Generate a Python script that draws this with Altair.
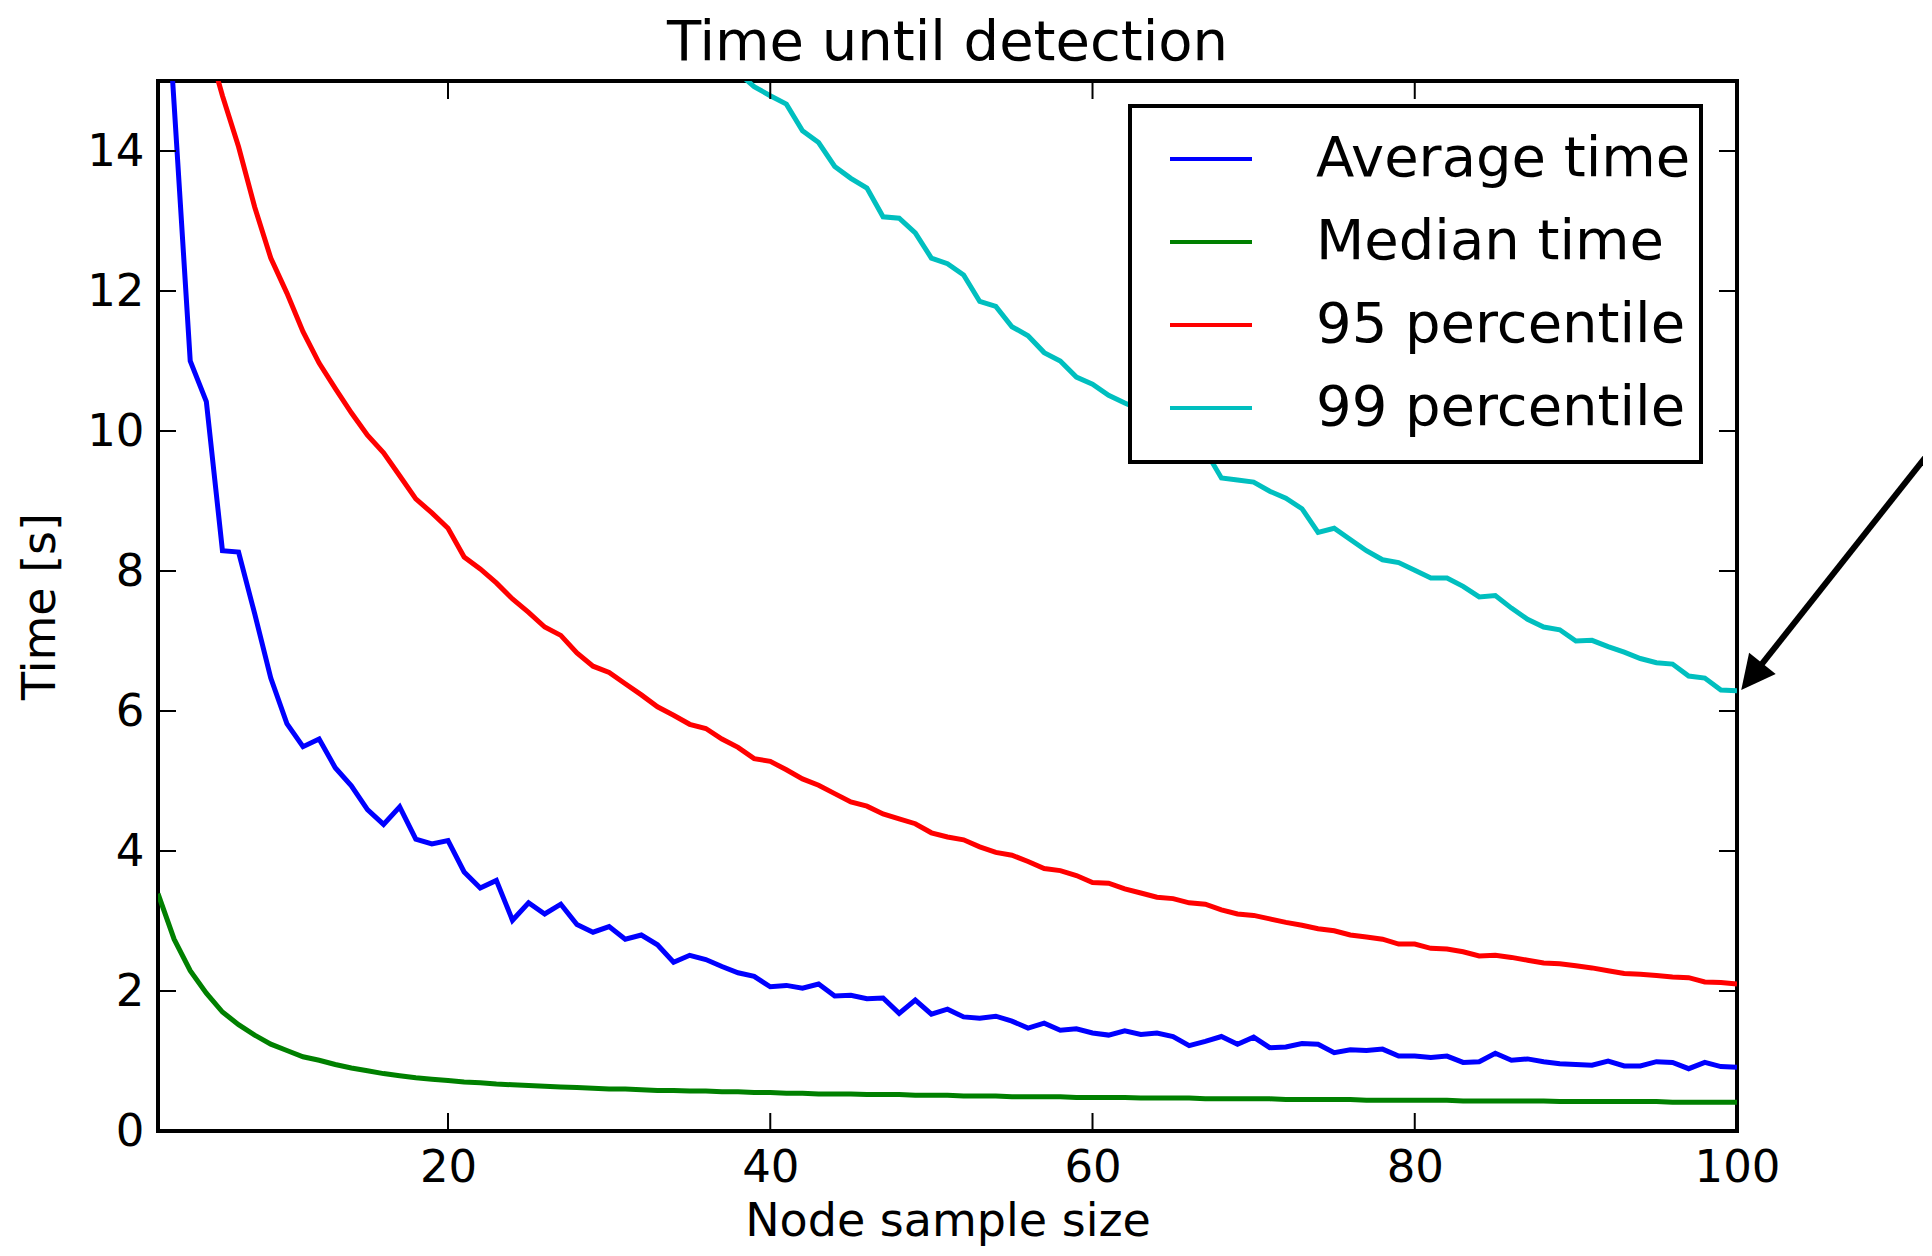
import altair as alt
import pandas as pd

# ---------------- data ----------------
series_names = ["Average time", "Median time", "95 percentile", "99 percentile"]
series_colors = ["#0000ff", "#008000", "#ff0000", "#00bfbf"]

avg_start = 2
avg_time = [18.3, 14.67, 11.0, 10.42, 8.29, 8.27, 7.39, 6.47, 5.82, 5.49,
            5.6, 5.19, 4.93, 4.59, 4.38, 4.63, 4.17, 4.1, 4.15, 3.7,
            3.47, 3.58, 3.01, 3.26, 3.1, 3.24, 2.95, 2.84, 2.92, 2.74,
            2.8, 2.66, 2.41, 2.51, 2.45, 2.35, 2.26, 2.21, 2.06, 2.08,
            2.04, 2.1, 1.93, 1.94, 1.89, 1.9, 1.68, 1.87, 1.67, 1.74,
            1.63, 1.61, 1.64, 1.57, 1.47, 1.54, 1.44, 1.46, 1.4, 1.37,
            1.43, 1.38, 1.4, 1.35, 1.22, 1.28, 1.35, 1.24, 1.34, 1.19,
            1.2, 1.25, 1.24, 1.12, 1.16, 1.15, 1.17, 1.07, 1.07, 1.05,
            1.07, 0.98, 0.99, 1.11, 1.01, 1.03, 0.99, 0.96, 0.95, 0.94,
            1.0, 0.93, 0.93, 0.99, 0.98, 0.89, 0.98, 0.92, 0.91]

median_start = 2
median_time = [3.39, 2.74, 2.29, 1.97, 1.70, 1.52, 1.37, 1.24, 1.15, 1.06,
               1.01, 0.95, 0.90, 0.86, 0.82, 0.79, 0.76, 0.74, 0.72, 0.70,
               0.69, 0.67, 0.66, 0.65, 0.64, 0.63, 0.62, 0.61, 0.60, 0.60,
               0.59, 0.58, 0.58, 0.57, 0.57, 0.56, 0.56, 0.55, 0.55, 0.54,
               0.54, 0.53, 0.53, 0.53, 0.52, 0.52, 0.52, 0.51, 0.51, 0.51,
               0.50, 0.50, 0.50, 0.49, 0.49, 0.49, 0.49, 0.48, 0.48, 0.48,
               0.48, 0.47, 0.47, 0.47, 0.47, 0.46, 0.46, 0.46, 0.46, 0.46,
               0.45, 0.45, 0.45, 0.45, 0.45, 0.44, 0.44, 0.44, 0.44, 0.44,
               0.44, 0.43, 0.43, 0.43, 0.43, 0.43, 0.43, 0.42, 0.42, 0.42,
               0.42, 0.42, 0.42, 0.42, 0.41, 0.41, 0.41, 0.41, 0.41]

p95_start = 5
p95_time = [15.6, 14.79, 14.06, 13.2, 12.47, 11.97, 11.42, 10.97, 10.61, 10.26,
            9.94, 9.69, 9.36, 9.03, 8.83, 8.61, 8.2, 8.03, 7.83, 7.6,
            7.41, 7.2, 7.08, 6.83, 6.64, 6.55, 6.39, 6.23, 6.06, 5.94,
            5.81, 5.75, 5.6, 5.48, 5.32, 5.28, 5.16, 5.03, 4.94, 4.82,
            4.7, 4.64, 4.53, 4.46, 4.39, 4.26, 4.2, 4.16, 4.06, 3.98,
            3.94, 3.85, 3.75, 3.72, 3.65, 3.55, 3.54, 3.46, 3.4, 3.34,
            3.32, 3.26, 3.24, 3.16, 3.1, 3.08, 3.03, 2.98, 2.94, 2.89,
            2.86, 2.8, 2.77, 2.74, 2.67, 2.67, 2.61, 2.6, 2.56, 2.5,
            2.51, 2.48, 2.44, 2.4, 2.39, 2.36, 2.33, 2.29, 2.25, 2.24,
            2.22, 2.2, 2.19, 2.13, 2.12, 2.1]

p99_start = 38
p99_time = [15.12, 14.92, 14.79, 14.67, 14.29, 14.12, 13.78, 13.61, 13.47, 13.06,
            13.04, 12.83, 12.47, 12.39, 12.23, 11.85, 11.78, 11.49, 11.36, 11.12,
            11.0, 10.77, 10.67, 10.51, 10.4, 10.3, 10.2, 10.05, 9.9, 9.72,
            9.33, 9.3, 9.27, 9.14, 9.04, 8.89, 8.55, 8.61, 8.45, 8.29,
            8.16, 8.12, 8.01, 7.9, 7.9, 7.78, 7.63, 7.65, 7.47, 7.31,
            7.2, 7.16, 7.0, 7.01, 6.92, 6.84, 6.75, 6.69, 6.67, 6.5,
            6.47, 6.3, 6.29]

x_tick_values = [20, 40, 60, 80, 100]
y_tick_values = [0, 2, 4, 6, 8, 10, 12, 14]
x_domain = [2, 100]
y_domain = [0, 15]

# annotation arrow (data units): tail outside the plot, head at the last 99-percentile point
arrow_tail = [113.5, 10.15]
arrow_head_center = [100.92, 6.49]

# ---------------- build tables ----------------
rows = []
for name, start, vals in [(series_names[0], avg_start, avg_time),
                          (series_names[1], median_start, median_time),
                          (series_names[2], p95_start, p95_time),
                          (series_names[3], p99_start, p99_time)]:
    for i, v in enumerate(vals):
        rows.append({"size": start + i, "time": v, "series": name})
df = pd.DataFrame(rows)

W, H = 1579, 1050
TICK = 18
FONT = "DejaVu Sans"

xscale = alt.Scale(domain=x_domain, nice=False, zero=False)
yscale = alt.Scale(domain=y_domain, nice=False, zero=False)
xaxis = alt.Axis(values=x_tick_values, title="Node sample size", ticks=False,
                 domain=False, grid=False, labelFontSize=45, labelPadding=14,
                 titleFontSize=46, titlePadding=9, labelFlush=False, format="d")
yaxis = alt.Axis(values=y_tick_values, title="Time [s]", ticks=False,
                 domain=False, grid=False, labelFontSize=45, labelPadding=14,
                 titleFontSize=46, titlePadding=22, format="d")


def X(field):
    return alt.X(field, scale=xscale, axis=xaxis)


def Y(field):
    return alt.Y(field, scale=yscale, axis=yaxis)


lines = alt.Chart(df).mark_line(strokeWidth=5, clip=True).encode(
    x=X("size:Q"),
    y=Y("time:Q"),
    color=alt.Color("series:N",
                    scale=alt.Scale(domain=series_names, range=series_colors),
                    sort=series_names,
                    legend=alt.Legend(title=" ", titleOrient="bottom", titleFontSize=4,
                                      titlePadding=12,
                                      orient="none", legendX=972, legendY=25,
                                      fillColor="white", strokeColor="black",
                                      padding=10,
                                      symbolType="stroke", symbolSize=6724,
                                      symbolStrokeWidth=4, symbolOffset=28,
                                      labelOffset=62, labelFontSize=56,
                                      labelFont=FONT, labelLimit=600,
                                      labelColor="black", rowPadding=12, zindex=1)),
)

xt = pd.DataFrame({"size": x_tick_values})
yt = pd.DataFrame({"time": y_tick_values})
tick_style = dict(color="black", strokeWidth=2)

bottom_ticks = alt.Chart(xt).mark_rule(**tick_style).encode(
    x=X("size:Q"), y=alt.value(H), y2=alt.value(H - TICK))
top_ticks = alt.Chart(xt).mark_rule(**tick_style).encode(
    x=X("size:Q"), y=alt.value(0), y2=alt.value(TICK))
left_ticks = alt.Chart(yt).mark_rule(**tick_style).encode(
    y=Y("time:Q"), x=alt.value(0), x2=alt.value(TICK))
right_ticks = alt.Chart(yt).mark_rule(**tick_style).encode(
    y=Y("time:Q"), x=alt.value(W), x2=alt.value(W - TICK))

arrow_df = pd.DataFrame({"size": [arrow_tail[0]], "time": [arrow_tail[1]],
                         "size2": [arrow_head_center[0]], "time2": [arrow_head_center[1]]})
arrow_line = alt.Chart(arrow_df).mark_rule(color="black", strokeWidth=6, clip=False).encode(
    x=X("size:Q"), y=Y("time:Q"), x2="size2:Q", y2="time2:Q")
head_df = pd.DataFrame({"size": [arrow_head_center[0]], "time": [arrow_head_center[1]]})
arrow_head = alt.Chart(head_df).mark_point(
    shape="M0,-1L1,1L-1,1Z", filled=True, size=1156, angle=218.5,
    color="black", opacity=1, strokeWidth=0, clip=False).encode(
    x=X("size:Q"), y=Y("time:Q"))

chart = alt.layer(lines, bottom_ticks, top_ticks, left_ticks, right_ticks,
                  arrow_line, arrow_head).properties(
    width=W, height=H,
    autosize=alt.AutoSizeParams(type="none"),
    padding={"left": 150, "top": 73, "right": 186, "bottom": 117},
    title=alt.TitleParams("Time until detection", fontSize=56, font=FONT,
                          fontWeight="normal", color="black", anchor="middle",
                          frame="group", offset=8),
).configure_view(stroke="black", strokeWidth=4).configure_axis(
    labelFont=FONT, titleFont=FONT, labelColor="black", titleColor="black",
    titleFontWeight="normal").configure_legend(strokeWidth=4, cornerRadius=0)

chart.save("out.html", embed_options={"renderer": "svg", "actions": False})
